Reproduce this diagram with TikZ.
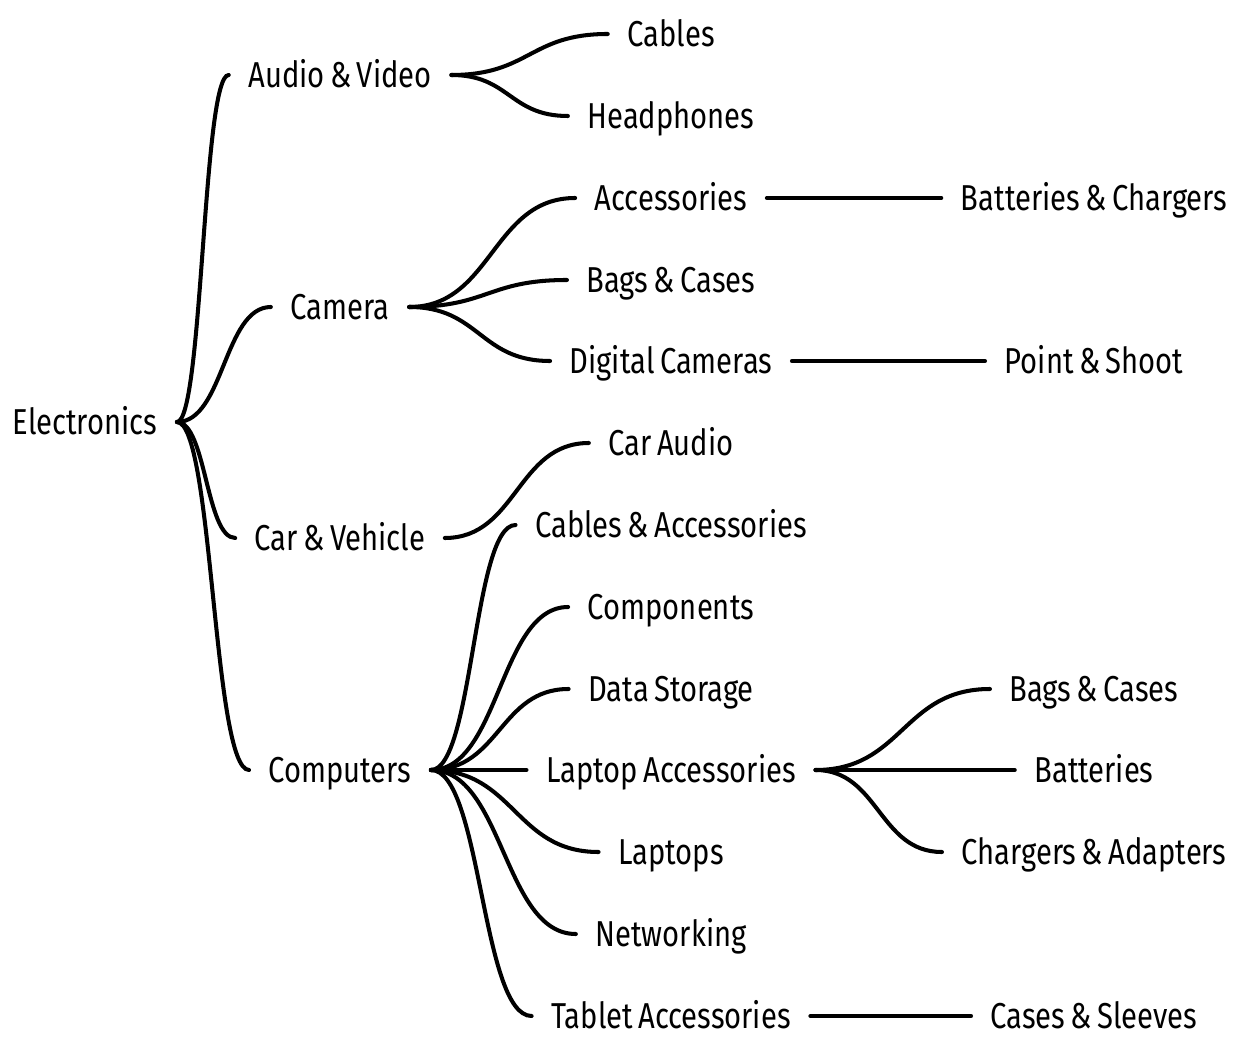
\documentclass[tikz,border=0pt]{standalone}
\usepackage{fontspec}
\setmainfont[FakeStretch=0.81,WordSpace=0.7]{Fira Sans}
\usetikzlibrary{calc}
\tikzset{
  cat/.style={inner xsep=11pt,inner ysep=0pt,text height=14.1pt,text depth=0pt,font=\fontsize{20.5}{24}\selectfont},
  branch/.style={line width=2.3pt,line cap=round,to path={.. controls ($(\tikztostart)!0.5!(\tikztostart -| \tikztotarget)$) and ($(\tikztotarget)!0.5!(\tikztotarget -| \tikztostart)$) .. (\tikztotarget)}}
}
\begin{document}
\begin{tikzpicture}[x=0.02cm,y=-0.02cm]
    \useasboundingbox (0,0) rectangle (1260,1043);
    \node[cat] (elec) at (85,422) {Electronics};
    \node[cat] (av) at (340,75) {Audio \& Video};
    \node[cat] (cam) at (340,307) {Camera};
    \node[cat] (car) at (340,538) {Car \& Vehicle};
    \node[cat] (comp) at (340,770) {Computers};
    \node[cat] (cables) at (671,34) {Cables};
    \node[cat] (phones) at (671,116) {Headphones};
    \node[cat] (camacc) at (671,198) {Accessories};
    \node[cat] (cambags) at (671,280) {Bags \& Cases};
    \node[cat] (digcam) at (671,361) {Digital Cameras};
    \node[cat] (caraudio) at (671,443) {Car Audio};
    \node[cat] (cabacc) at (671,525) {Cables \& Accessories};
    \node[cat] (parts) at (671,607) {Components};
    \node[cat] (storage) at (671,689) {Data Storage};
    \node[cat] (lapacc) at (671,770) {Laptop Accessories};
    \node[cat] (laptops) at (671,852) {Laptops};
    \node[cat] (net) at (671,934) {Networking};
    \node[cat] (tabacc) at (671,1016) {Tablet Accessories};
    \node[cat] (batchg) at (1094,198) {Batteries \& Chargers};
    \node[cat] (pns) at (1094,361) {Point \& Shoot};
    \node[cat] (lapbags) at (1094,689) {Bags \& Cases};
    \node[cat] (bat) at (1094,770) {Batteries};
    \node[cat] (chg) at (1094,852) {Chargers \& Adapters};
    \node[cat] (sleeves) at (1094,1016) {Cases \& Sleeves};
    \foreach \kid in {av,cam,car,comp} \draw[branch] (elec.east) to (\kid.west);
    \foreach \kid in {cables,phones} \draw[branch] (av.east) to (\kid.west);
    \foreach \kid in {camacc,cambags,digcam} \draw[branch] (cam.east) to (\kid.west);
    \draw[branch] (car.east) to (caraudio.west);
    \foreach \kid in {cabacc,parts,storage,lapacc,laptops,net,tabacc} \draw[branch] (comp.east) to (\kid.west);
    \draw[branch] (camacc.east) to (batchg.west);
    \draw[branch] (digcam.east) to (pns.west);
    \foreach \kid in {lapbags,bat,chg} \draw[branch] (lapacc.east) to (\kid.west);
    \draw[branch] (tabacc.east) to (sleeves.west);
  \end{tikzpicture}
\end{document}
